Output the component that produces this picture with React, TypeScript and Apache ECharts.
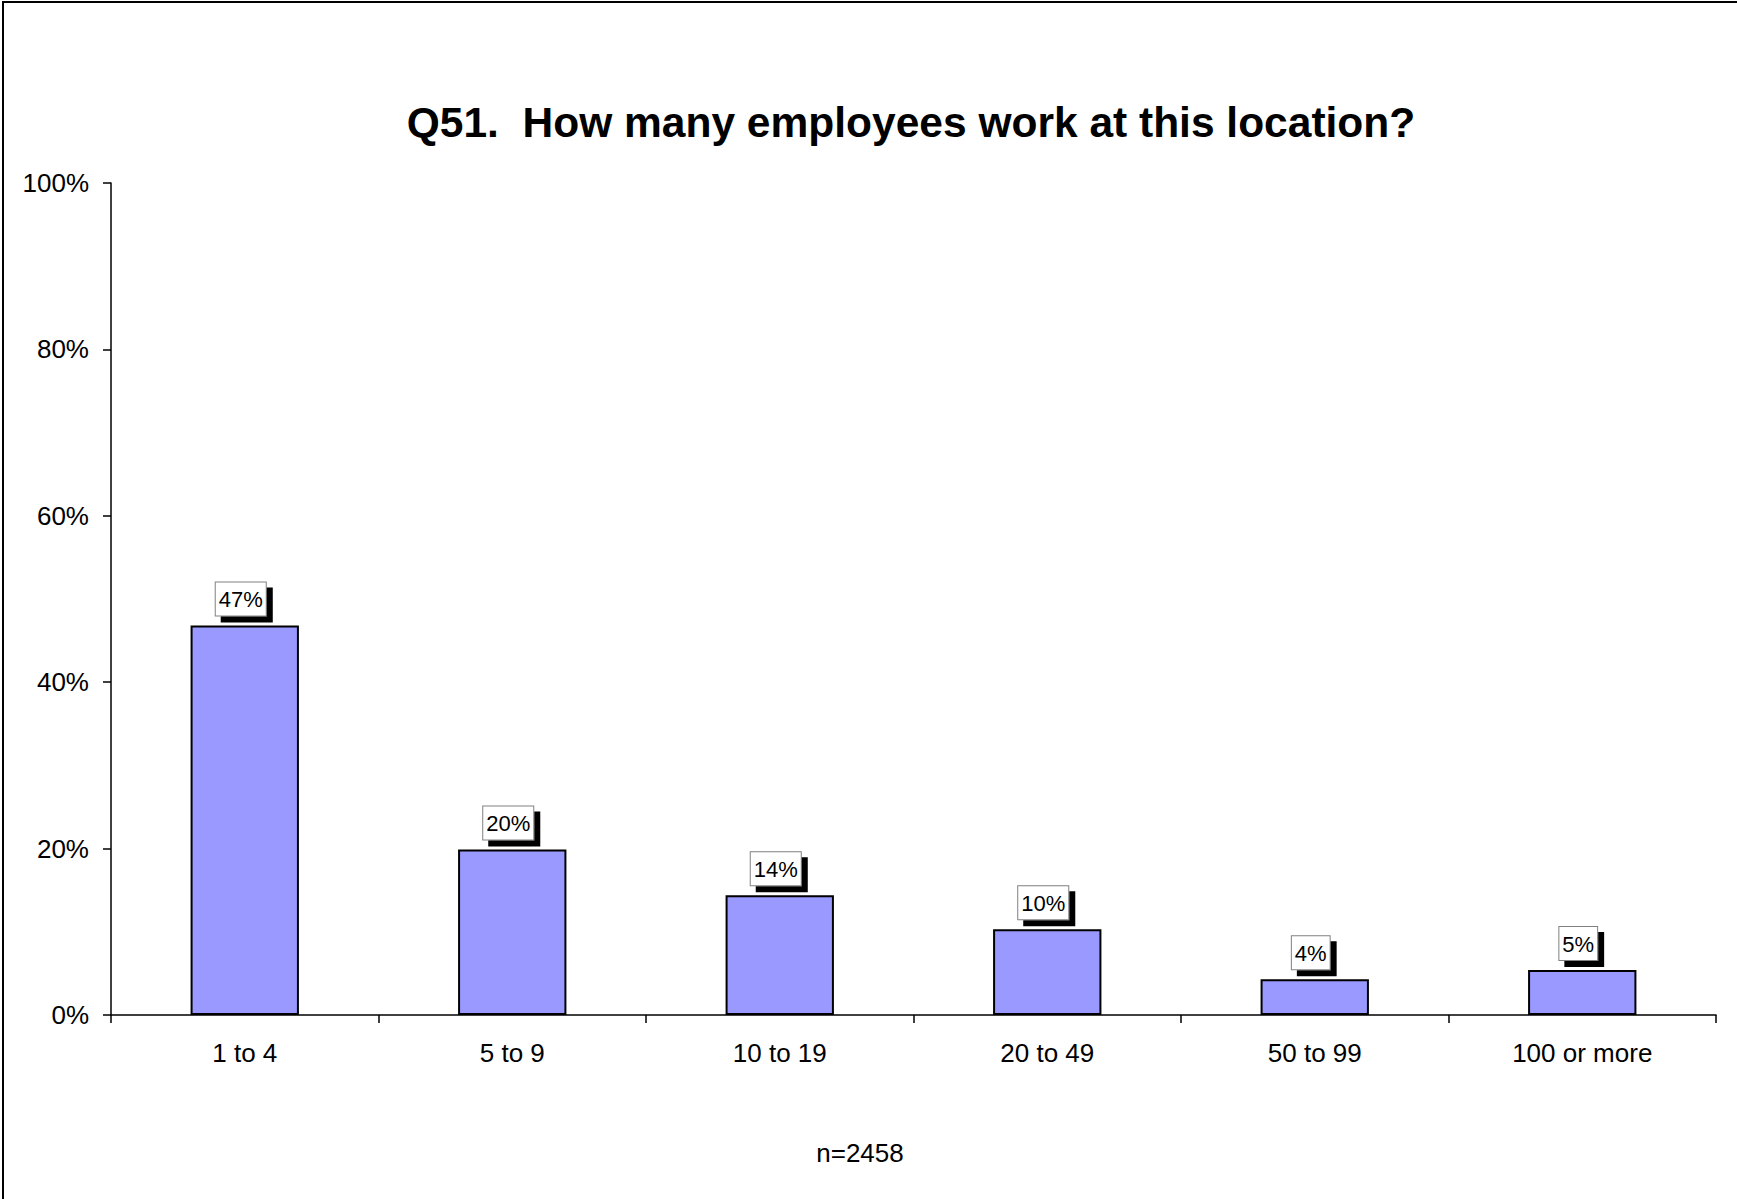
import React, { useEffect, useRef } from "react";
import * as echarts from "echarts";

const categories = ["1 to 4", "5 to 9", "10 to 19", "20 to 49", "50 to 99", "100 or more"];
const values = [46.8, 19.9, 14.4, 10.3, 4.3, 5.4];
const yTicks = [0, 20, 40, 60, 80, 100];
const titleText = "Q51.  How many employees work at this location?";
const footnote = "n=2458";

const FONT = "'Liberation Sans', Arial, sans-serif";

export default function App() {
  const ref = useRef<HTMLDivElement>(null);
  useEffect(() => {
    document.body.style.margin = "0";
    const chart = echarts.init(ref.current!, null, { renderer: "svg" });
    chart.setOption({
      animation: false,
      backgroundColor: "#ffffff",
      textStyle: { fontFamily: FONT },
      title: {
        text: titleText,
        left: 906,
        top: 96,
        textAlign: "center",
        textStyle: { fontFamily: FONT, fontSize: 42.5, fontWeight: "bold", color: "#000" },
      },
      graphic: [
        {
          type: "rect",
          shape: { x: 3, y: 2, width: 1900, height: 1400 },
          style: { fill: "none", stroke: "#000", lineWidth: 2 },
          silent: true,
        },
        {
          type: "text",
          x: 860,
          y: 1153,
          style: {
            text: footnote,
            fontFamily: FONT,
            fontSize: 26,
            fill: "#000",
            textAlign: "center",
            textVerticalAlign: "middle",
          },
        },
      ],
      grid: { left: 111, top: 183, width: 1605, height: 832, containLabel: false },
      xAxis: {
        type: "category",
        data: categories,
        axisLine: { lineStyle: { color: "#000", width: 1.5 } },
        axisTick: { show: true, length: 8, lineStyle: { color: "#000", width: 1.5 } },
        axisLabel: { fontFamily: FONT, fontSize: 26, color: "#000", margin: 25 },
      },
      yAxis: {
        type: "value",
        min: 0,
        max: 100,
        interval: 20,
        splitLine: { show: false },
        axisLine: { show: true, lineStyle: { color: "#000", width: 1.5 } },
        axisTick: { show: true, length: 8, lineStyle: { color: "#000", width: 1.5 } },
        axisLabel: {
          fontFamily: FONT,
          fontSize: 26,
          color: "#000",
          margin: 22,
          formatter: (v: number) => (yTicks.includes(v) ? v + "%" : ""),
        },
      },
      series: [
        {
          type: "bar",
          data: values,
          barWidth: "40.5%",
          itemStyle: { color: "#9999FF", borderColor: "#000", borderWidth: 2 },
          label: {
            show: true,
            position: "top",
            distance: 10,
            offset: [-4, 0],
            formatter: (p: any) => Math.round(p.value) + "%",
            fontFamily: FONT,
            fontSize: 22,
            color: "#000",
            backgroundColor: "#fff",
            borderColor: "#808080",
            borderWidth: 1,
            padding: [6, 3, 5, 3],
            shadowColor: "#000",
            shadowBlur: 0,
            shadowOffsetX: 6,
            shadowOffsetY: 6,
          },
        },
      ],
    });
    return () => chart.dispose();
  }, []);
  return (
    <div
      ref={ref}
      style={{ position: "fixed", left: 0, top: 0, width: 1737, height: 1199 }}
    />
  );
}
